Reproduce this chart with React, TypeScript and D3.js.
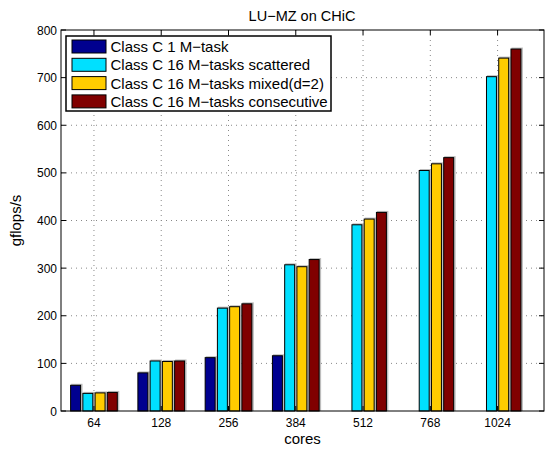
import * as d3 from 'd3';

const cores = ['64', '128', '256', '384', '512', '768', '1024'];
const seriesNames = [
  'Class C 1 M\u2212task',
  'Class C 16 M\u2212tasks scattered',
  'Class C 16 M\u2212tasks mixed(d=2)',
  'Class C 16 M\u2212tasks consecutive',
];
const oneTask = [54, 80, 112, 116, 0, 0, 0];
const scattered = [37, 105, 216, 307, 391, 505, 702];
const mixed = [38, 104, 219, 303, 403, 519, 741];
const consecutive = [39, 105, 225, 318, 417, 532, 760];
const yTicks = [0, 100, 200, 300, 400, 500, 600, 700, 800];
const colors = ['#00008f', '#00e0ff', '#ffcc00', '#800000'];

const W = 554;
const H = 449;
const MARGIN = { top: 30, right: 10, bottom: 38, left: 61 };
const FONT = 'Liberation Sans, Arial, Helvetica, sans-serif';

export default function App() {
  const series = [oneTask, scattered, mixed, consecutive];
  const boundsWidth = W - MARGIN.left - MARGIN.right;
  const boundsHeight = H - MARGIN.top - MARGIN.bottom;

  const xScale = d3.scaleLinear().domain([0.51, 7.69]).range([0, boundsWidth]);
  const yScale = d3.scaleLinear().domain([0, 800]).range([boundsHeight, 0]);
  const unit = xScale(2) - xScale(1);
  const barStep = 0.182 * unit;
  const barW = 0.148 * unit;

  const bars = series.flatMap((vals, s) =>
    vals.map((v, i) => {
      if (!v) return null;
      const cx = xScale(i + 1) + (s - 1.5) * barStep;
      const y = yScale(v);
      return (
        <g key={`b-${s}-${i}`}>
          <rect x={cx - barW / 2 + 0.5} y={y - 1.5} width={barW + 1.5} height={boundsHeight - y + 1.5} fill="#bdbdbd" />
          <rect x={cx - barW / 2} y={y} width={barW} height={boundsHeight - y} fill={colors[s]} stroke="#000" strokeWidth={1} />
        </g>
      );
    })
  );

  return (
    <svg width={W} height={H} style={{ display: 'block', position: 'absolute', left: 0, top: 0 }} fontFamily={FONT}>
      <rect width={W} height={H} fill="#fff" />
      <text x={302} y={21} textAnchor="middle" fontSize={14.5} fill="#000">LU{'\u2212'}MZ on CHiC</text>
      <g transform={`translate(${MARGIN.left},${MARGIN.top})`}>
        {yTicks.slice(1, -1).map(t => (
          <line key={`gy${t}`} x1={0} x2={boundsWidth} y1={yScale(t)} y2={yScale(t)} stroke="#888" strokeDasharray="1 4" />
        ))}
        {cores.map((c, i) => (
          <line key={`gx${c}`} x1={xScale(i + 1)} x2={xScale(i + 1)} y1={0} y2={boundsHeight} stroke="#888" strokeDasharray="1 4" />
        ))}
        {bars}
        <rect x={0} y={0} width={boundsWidth} height={boundsHeight} fill="none" stroke="#000" strokeWidth={1} />
        {yTicks.map(t => (
          <g key={`yt${t}`}>
            <line x1={0} x2={5} y1={yScale(t)} y2={yScale(t)} stroke="#000" />
            <line x1={boundsWidth - 5} x2={boundsWidth} y1={yScale(t)} y2={yScale(t)} stroke="#000" />
            <text x={-4} y={yScale(t) + 4.5} textAnchor="end" fontSize={12}>{t}</text>
          </g>
        ))}
        {cores.map((c, i) => (
          <g key={`xt${c}`}>
            <line x1={xScale(i + 1)} x2={xScale(i + 1)} y1={boundsHeight} y2={boundsHeight - 5} stroke="#000" />
            <line x1={xScale(i + 1)} x2={xScale(i + 1)} y1={0} y2={5} stroke="#000" />
            <text x={xScale(i + 1)} y={boundsHeight + 16} textAnchor="middle" fontSize={12}>{c}</text>
          </g>
        ))}
        <text x={boundsWidth / 2} y={boundsHeight + 33} textAnchor="middle" fontSize={15}>cores</text>
        <text transform={`translate(${-40},${boundsHeight / 2}) rotate(-90)`} textAnchor="middle" fontSize={15}>gflops/s</text>
        <g transform="translate(5,6)">
          <rect x={0} y={0} width={265} height={75} fill="#fff" stroke="#000" strokeWidth={1.5} />
          {seriesNames.map((n, s) => (
            <g key={`lg${s}`} transform={`translate(0,${4 + s * 18.3})`}>
              <rect x={6} y={0} width={34} height={13} fill={colors[s]} stroke="#000" />
              <text x={44.5} y={12} fontSize={15}>{n}</text>
            </g>
          ))}
        </g>
      </g>
    </svg>
  );
}
